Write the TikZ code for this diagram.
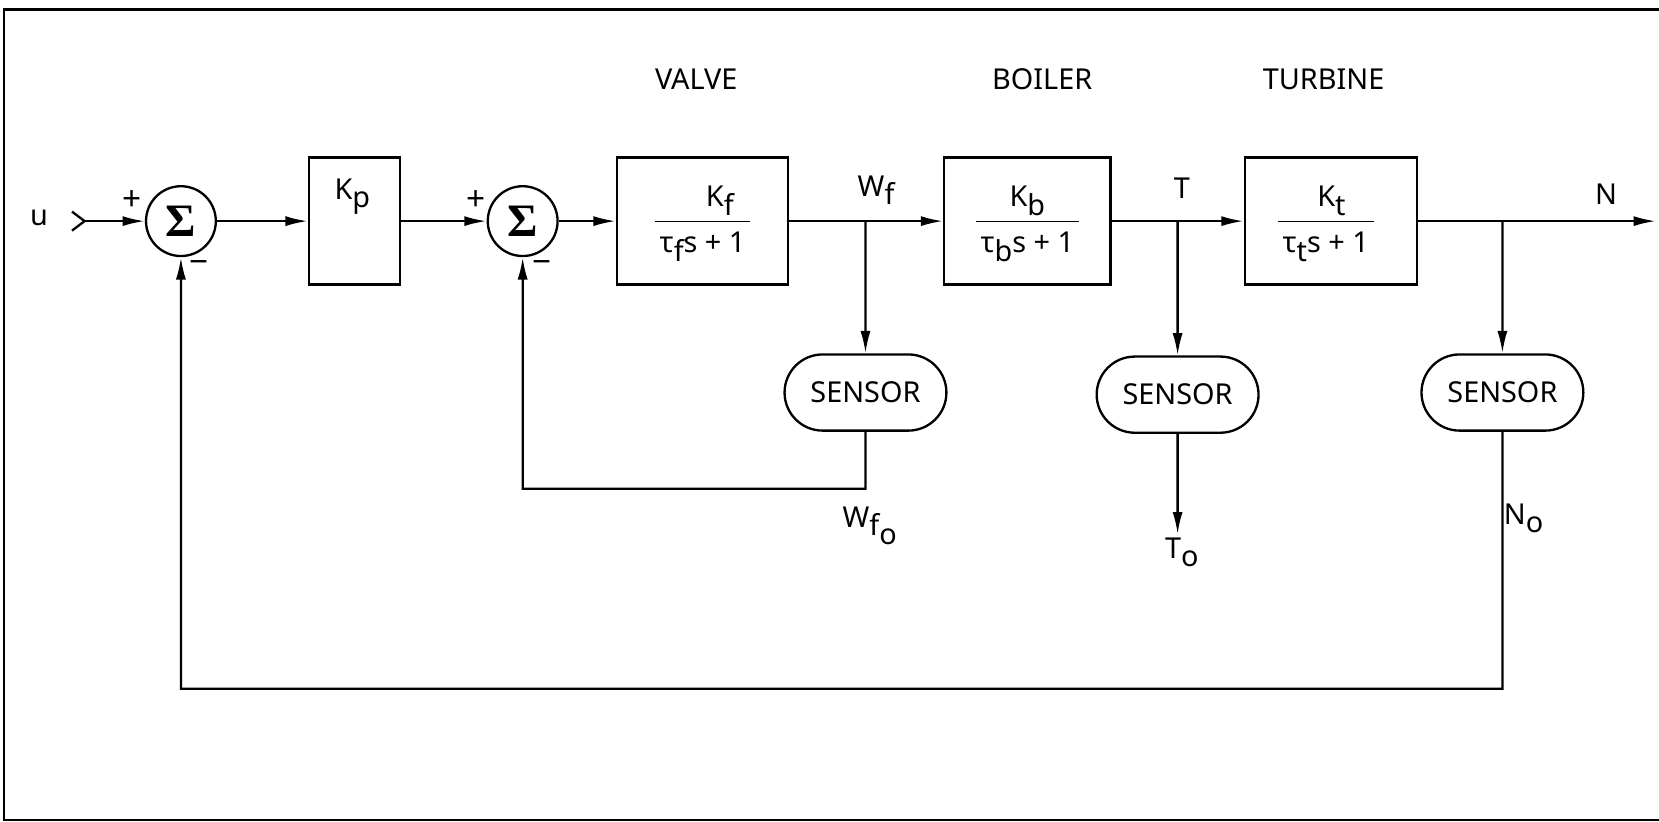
\documentclass[tikz,border=0pt]{standalone}
\usepackage{fontspec}
\setmainfont{Noto Sans}
\newfontfamily\sigmafont{Liberation Serif}
\usetikzlibrary{arrows.meta,shapes.misc}
\newcommand{\lo}[1]{\raisebox{-0.55ex}{#1}}
\newcommand{\sumsign}{{\sigmafont\bfseries\fontsize{25}{28}\selectfont Σ}}

\begin{document}
\begin{tikzpicture}[x=0.02cm,y=-0.02cm,line width=1.25pt,
  every node/.style={font=\fontsize{15.5}{18}\selectfont},
  >={Latex[length=12pt,width=5.4pt]},
  sumnode/.style={draw,circle,minimum size=1.32cm,inner sep=0pt},
  blk/.style={draw,rectangle,minimum height=2.4cm,inner sep=0pt},
  sensornode/.style={draw,rounded rectangle,minimum width=3.06cm,minimum height=1.44cm,inner sep=0pt}]
\useasboundingbox (0,0) rectangle (1568,776);
\draw (1568,9) -- (4,9) -- (4,775) -- (1568,775);
\node (valvelab) at (658,75) {VALVE};
\node (boilerlab) at (985,75) {BOILER};
\node (turbinelab) at (1251,75) {TURBINE};
\node (u) at (37,206) {u};
\coordinate (in) at (80,209);
\node[sumnode] (S1) at (171,209) {\sumsign};
\node (p1) at (125,190) {\fontsize{18}{20}\selectfont +};
\node (m1) at (188,252) {\fontsize{18}{20}\selectfont −};
\node[blk,minimum width=1.72cm] (Kp) at (335,209) {};
\node (Kplab) at (333,186) {K\lo{p}};
\node[sumnode] (S2) at (494,209) {\sumsign};
\node (p2) at (450,190) {\fontsize{18}{20}\selectfont +};
\node (m2) at (512,252) {\fontsize{18}{20}\selectfont −};
\node[blk,minimum width=3.24cm] (valve) at (664,209) {};
\node (valvetf) at (664,211) {\begin{tabular}{@{\,}c@{\,}}\hspace{1.2em}K\lo{f}\\[2pt]\hline\rule{0pt}{17pt}τ\lo{f}s + 1\end{tabular}};
\node[blk,minimum width=3.14cm] (boiler) at (971,209) {};
\node (boilertf) at (971,211) {\begin{tabular}{@{\,}c@{\,}}K\lo{b}\\[2pt]\hline\rule{0pt}{17pt}τ\lo{b}s + 1\end{tabular}};
\node[blk,minimum width=3.26cm] (turbine) at (1258,209) {};
\node (turbinetf) at (1253,211) {\begin{tabular}{@{\,}c@{\,}}\hspace{0.4em}K\lo{t}\\[2pt]\hline\rule{0pt}{17pt}τ\lo{t}s + 1\end{tabular}};
\coordinate (wf) at (818,209);
\coordinate (tb) at (1113,209);
\coordinate (nb) at (1420,209);
\coordinate (out) at (1565,209);
\node (Wflab) at (828,180) {W\lo{f}};
\node (Tlab) at (1117,178) {T};
\node (Nlab) at (1518,184) {N};
\node[sensornode] (sen1) at (818,371) {SENSOR};
\node[sensornode] (sen2) at (1113,373) {SENSOR};
\node[sensornode] (sen3) at (1420,371) {SENSOR};
\coordinate (wfo) at (818,462);
\coordinate (to) at (1113,505);
\coordinate (no) at (1420,651);
\node (Wfolab) at (822,497) {W\lo{f\lo{o}}};
\node (Tolab) at (1117,522) {T\lo{o}};
\node (Nolab) at (1440,490) {N\lo{o}};
\draw (in) ++(-12,-9) -- (in) -- ++(-12,9);
\draw[->] (in) -- (S1);
\draw[->] (S1) -- (Kp);
\draw[->] (Kp) -- (S2);
\draw[->] (S2) -- (valve);
\draw[->] (valve) -- (boiler);
\draw[->] (boiler) -- (turbine);
\draw[->] (turbine) -- (out);
\draw[->] (wf) -- (sen1);
\draw[->] (tb) -- (sen2);
\draw[->] (nb) -- (sen3);
\draw[->] (sen1) -- (wfo) -| (S2);
\draw[->] (sen2) -- (to);
\draw[->] (sen3) -- (no) -| (S1);
\end{tikzpicture}
\end{document}
